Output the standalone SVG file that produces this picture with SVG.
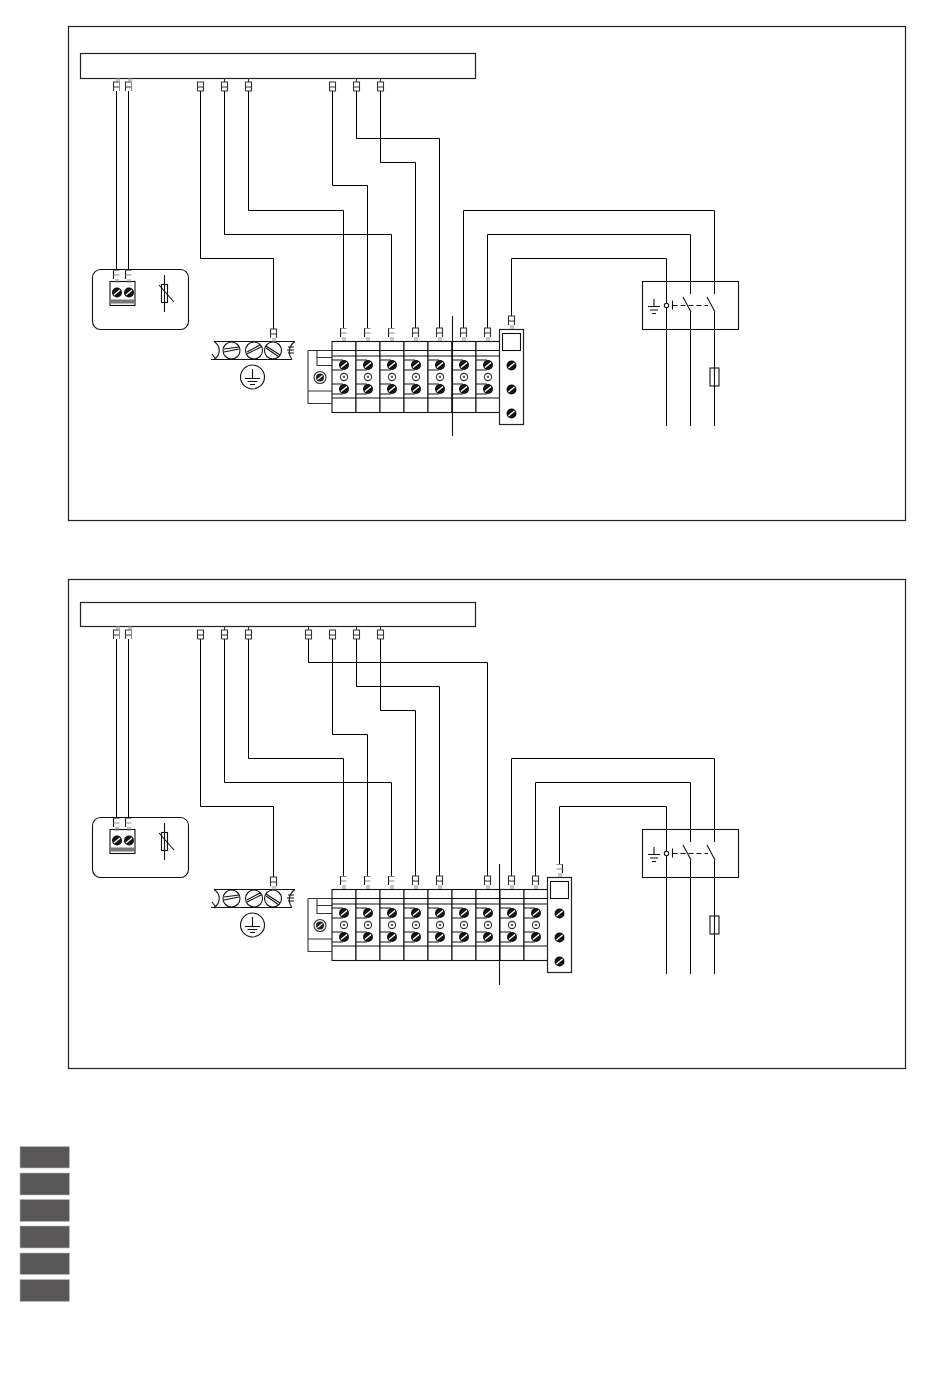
<svg xmlns="http://www.w3.org/2000/svg" xmlns:xlink="http://www.w3.org/1999/xlink" width="950" height="1383" viewBox="0 0 950 1383">
<style>
.l{fill:none;stroke:#111;stroke-width:1.1}
.f{fill:#fff;stroke:#111;stroke-width:1.1}
.g{fill:none;stroke:#8a8a8a;stroke-width:1}
.m{fill:none;stroke:#333;stroke-width:1.1}
.p{fill:#fff;stroke:#222;stroke-width:1.2}
.w{fill:none;stroke:#000;stroke-width:1}
.key{fill:#595757;stroke:#bdbdbd;stroke-width:.6}
</style>
<defs>
<g id="screw"><circle r="5" fill="#111"/><line x1="-3" y1="2.500" x2="3" y2="-2.500" stroke="#fff" stroke-width="1.400"/></g>
<g id="ring"><circle r="3.600" class="m"/><circle r="1" fill="#222"/></g>
<g id="conn-a"><path class="m" d="M-3 9V0H3V9M-3 5H3"/><path class="g" d="M-.5 9V13M1.500 9V13"/></g>
<g id="conn-f"><path class="l" d="M-3 9V0"/><path class="g" d="M-3 .5H3M-3 5H3M-.5 9V13M1.500 9V13"/></g>
<g id="conn-r"><path class="l" d="M3 9V0"/><path class="g" d="M-3 .5H3M-3 5H3M-.5 9V13M1.500 9V13"/></g>
<g id="top-f"><path class="m" d="M-3 9V0H3M-3 5H3"/><path class="g" d="M.5 -4V0M2.500 -4V0M3 0V9"/></g>
<g id="top-a"><path class="m" d="M-3 9V0H3V9H-3M-3 5H3"/></g>
<g id="top-s"><path class="m" d="M-3 9V0H3V9H-3M-3 5H3M0 -4V0"/></g>
<g id="module">
<rect class="f" x="0" y="0" width="24" height="71"/>
<path class="l" d="M0 9H24M0 14.500H24M0 56.500H24"/>
<path class="l" d="M0 18.500H11M0 28.500H11M0 42.500H11M0 52.500H11"/>
<use href="#screw" x="12" y="23.500"/><use href="#ring" x="12" y="35.500"/><use href="#screw" x="12" y="47.500"/>
</g>
<g id="clamp">
<path class="m" d="M0 9V62H24M0 49.500H24M9 9V24H24M9 16H24M0 9H24"/>
<circle cx="12" cy="36" r="6" class="m"/><circle cx="12" cy="36" r="4" fill="#222"/><line x1="9.500" y1="38" x2="14.500" y2="34" stroke="#fff" stroke-width="1.100"/>
</g>
<g id="feed">
<rect class="p" x="0" y="0" width="24" height="95"/>
<rect class="f" x="3" y="4" width="18" height="17"/>
<use href="#screw" x="12" y="36"/><use href="#screw" x="12" y="60"/><use href="#screw" x="12" y="84"/>
</g>
<g id="varistor-box">
<rect class="l" x="92.500" y="269.500" width="96" height="60" rx="8"/>
<rect class="f" x="110" y="281.500" width="25" height="24"/>
<rect x="110" y="299.500" width="25" height="4" fill="#777"/>
<use href="#screw" x="117" y="292.500"/><use href="#screw" x="129" y="292.500"/>
<use href="#conn-f" x="116.500" y="270"/><use href="#conn-f" x="128.500" y="270"/>
<rect class="f" x="161.500" y="284.500" width="6" height="18"/>
<path class="l" d="M164.500 275V312M159 285L174 302"/>
</g>
<g id="bus">
<path class="l" d="M214 341.500H295M211 359.500H292M214 341.500C221 346 221 355 214 359.500M295 341.500C288 346 288 355 292 359.500M212 354L215 358M288 347H294M287 350H294M288 353H294"/>
<circle class="f" cx="231.500" cy="350.500" r="8.500"/><line class="l" x1="224" y1="352" x2="239" y2="349"/><line class="l" x1="224" y1="349" x2="239" y2="347"/>
<circle class="f" cx="254" cy="350.500" r="8.500"/><line class="l" x1="247" y1="354" x2="261" y2="347"/><line class="l" x1="247" y1="352" x2="260" y2="345"/>
<circle class="f" cx="273" cy="350.500" r="8.500"/><line class="l" x1="266" y1="346" x2="280" y2="355"/><line class="l" x1="266" y1="348" x2="279" y2="357"/>
<circle class="l" cx="252.500" cy="377" r="12"/>
<path class="l" d="M252.500 369V378M245 378.500H260M247.500 381.500H257.500M250 384.500H255"/>
</g>
<g id="switch-box">
<rect class="l" x="642.500" y="281.500" width="96" height="48"/>
<path class="l" d="M654 299V306.500M648 306.500H660M650 310H658M652 313.500H656"/>
<circle class="f" cx="666.500" cy="305.500" r="2.200"/>
<path class="l" d="M672.500 300.500V309.500"/>
<path class="l" stroke-dasharray="5 3" d="M672.500 305.500H708"/>
<path class="l" d="M683 297L691 312M707 297L715 312"/>
<rect class="f" x="710" y="368" width="9" height="18"/>
<path class="l" d="M714.500 368V386"/>
</g>
</defs>

<g id="panel-1-frame"><rect class="p" x="68.500" y="26.500" width="837" height="494"/></g>
<g id="panel-2-frame"><rect class="p" x="68.500" y="579.500" width="837" height="489"/></g>

<g id="connectors">
<path class="w" d="M116.500 91V270M128.500 91V270M200.500 91V258.500H273.500V329M224.500 91V234.500H391.500V328M248.500 91V210.500H343.500V328M332.500 91V185.500H367.500V328M356.500 91V138.500H439.500V328M380.500 91V162.500H415.500V328M463.500 328V210.500H714.500V294M714.500 312V426M487.500 328V234.500H690.500V294M690.500 312V426M511.500 316V258.500H666.500V426M452.500 316V436"/>
<path class="w" d="M116.500 639V818M128.500 639V818M200.500 639V806.500H273.500V877M224.500 639V782.500H391.500V876M248.500 639V758.500H343.500V876M308.500 639V662.500H487.500V876M332.500 639V734.500H367.500V876M356.500 639V686.500H439.500V876M380.500 639V710.500H415.500V876M511.500 876V758.500H714.500V842M714.500 860V974M535.500 876V782.500H690.500V842M690.500 860V974M559.500 864V806.500H666.500V974M499.500 864V985"/>
</g>

<g id="panel-1">
<g id="controller-1">
<rect class="p" x="80.500" y="53.500" width="395" height="25"/>
<use href="#top-f" x="116.500" y="82"/><use href="#top-f" x="128.500" y="82"/>
<use href="#top-a" x="200.500" y="82"/><use href="#top-s" x="224.500" y="82"/><use href="#top-s" x="248.500" y="82"/>
<use href="#top-a" x="332.500" y="82"/><use href="#top-s" x="356.500" y="82"/><use href="#top-s" x="380.500" y="82"/>
</g>
<g id="varistor-1"><use href="#varistor-box"/></g>
<g id="ground-bus-1"><use href="#bus"/><use href="#conn-a" x="273.500" y="329"/></g>
<g id="terminals-1">
<use href="#clamp" x="308" y="341.500"/>
<use href="#module" x="332" y="341.500"/><use href="#module" x="356" y="341.500"/><use href="#module" x="380" y="341.500"/><use href="#module" x="404" y="341.500"/><use href="#module" x="428" y="341.500"/><use href="#module" x="452" y="341.500"/><use href="#module" x="476" y="341.500"/>
<use href="#feed" x="499.500" y="329.500"/>
<use href="#conn-f" x="343.500" y="328"/><use href="#conn-f" x="367.500" y="328"/><use href="#conn-f" x="391.500" y="328"/>
<use href="#conn-a" x="415.500" y="328"/><use href="#conn-a" x="439.500" y="328"/><use href="#conn-a" x="463.500" y="328"/><use href="#conn-a" x="487.500" y="328"/><use href="#conn-a" x="511.500" y="316"/>
<path class="l" d="M452.500 316V436"/>
</g>
<g id="switch-1"><use href="#switch-box"/></g>
</g>

<g id="panel-2">
<g id="controller-2">
<rect class="p" x="80.500" y="602.500" width="395" height="24"/>
<use href="#top-f" x="116.500" y="630"/><use href="#top-f" x="128.500" y="630"/>
<use href="#top-a" x="200.500" y="630"/><use href="#top-s" x="224.500" y="630"/><use href="#top-s" x="248.500" y="630"/>
<use href="#top-s" x="308.500" y="630"/><use href="#top-a" x="332.500" y="630"/><use href="#top-s" x="356.500" y="630"/><use href="#top-s" x="380.500" y="630"/>
</g>
<g id="varistor-2" transform="translate(0 548)"><use href="#varistor-box"/></g>
<g id="ground-bus-2" transform="translate(0 548)"><use href="#bus"/><use href="#conn-a" x="273.500" y="329"/></g>
<g id="terminals-2">
<use href="#clamp" x="308" y="889.500"/>
<use href="#module" x="332" y="889.500"/><use href="#module" x="356" y="889.500"/><use href="#module" x="380" y="889.500"/><use href="#module" x="404" y="889.500"/><use href="#module" x="428" y="889.500"/><use href="#module" x="452" y="889.500"/><use href="#module" x="476" y="889.500"/><use href="#module" x="500" y="889.500"/><use href="#module" x="524" y="889.500"/>
<use href="#feed" x="547.500" y="877.500"/>
<use href="#conn-f" x="343.500" y="876"/><use href="#conn-f" x="367.500" y="876"/><use href="#conn-f" x="391.500" y="876"/>
<use href="#conn-a" x="415.500" y="876"/><use href="#conn-a" x="439.500" y="876"/><use href="#conn-a" x="487.500" y="876"/><use href="#conn-a" x="511.500" y="876"/><use href="#conn-a" x="535.500" y="876"/><use href="#conn-r" x="559.500" y="864"/>
<path class="l" d="M499.500 864V985"/>
</g>
<g id="switch-2" transform="translate(0 548)"><use href="#switch-box"/></g>
</g>

<g id="key-swatches">
<rect class="key" x="20" y="1146.500" width="49.500" height="21.500"/>
<rect class="key" x="20" y="1173" width="49.500" height="22"/>
<rect class="key" x="20" y="1199.500" width="49.500" height="22"/>
<rect class="key" x="20" y="1226" width="49.500" height="22"/>
<rect class="key" x="20" y="1253" width="49.500" height="21.500"/>
<rect class="key" x="20" y="1279.500" width="49.500" height="22"/>
</g>
</svg>
